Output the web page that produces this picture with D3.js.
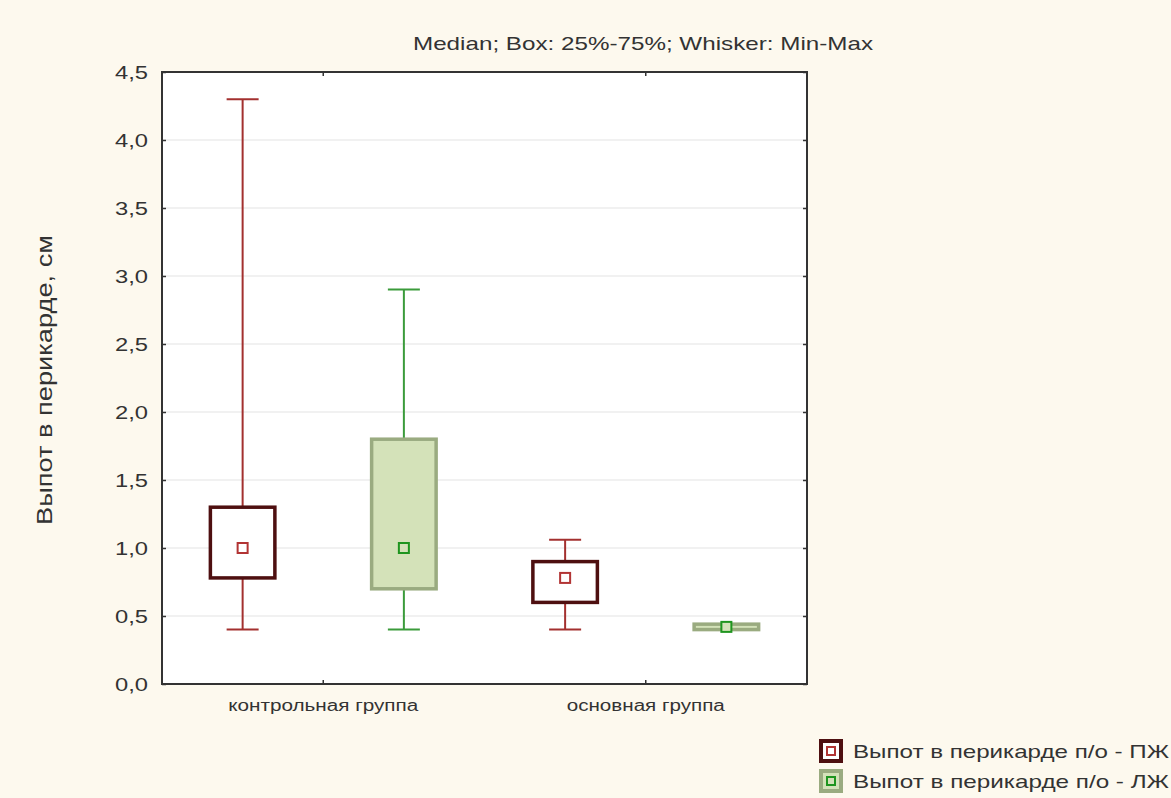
<!DOCTYPE html>
<html><head><meta charset="utf-8">
<script src="https://cdn.jsdelivr.net/npm/d3@7"></script>
<style>
html,body{margin:0;padding:0;background:#fdf9ee;}
svg{display:block;font-family:"Liberation Sans",Arial,sans-serif;}
</style></head>
<body><svg id="c" width="1171" height="798"></svg>
<script>
// ---- data ----
const categories = ["контрольная группа", "основная группа"];
const seriesNames = ["Выпот в перикарде п/о - ПЖ", "Выпот в перикарде п/о - ЛЖ"];
const pzhMin    = [0.40, 0.40];
const pzhQ1     = [0.78, 0.60];
const pzhMedian = [1.00, 0.78];
const pzhQ3     = [1.30, 0.90];
const pzhMax    = [4.30, 1.06];
const lzhMin    = [0.40, 0.40];
const lzhQ1     = [0.70, 0.40];
const lzhMedian = [1.00, 0.42];
const lzhQ3     = [1.80, 0.44];
const lzhMax    = [2.90, 0.44];
const yTicks = [0, 0.5, 1, 1.5, 2, 2.5, 3, 3.5, 4, 4.5];
const titleText = "Median; Box: 25%-75%; Whisker: Min-Max";
const yLabel = "Выпот в перикарде, см";

// ---- layout / styles ----
const L = 162, R = 807, T = 72, B = 684;
const styles = [
  {box:"#4e0f10", fill:"#ffffff", whisk:"#a3302f", med:"#b23434", medFill:"#ffffff"},
  {box:"#9aab80", fill:"#d4e2b9", whisk:"#3b9b3b", med:"#1f951f", medFill:"#d4e2b9"}
];
const svg = d3.select("#c");
svg.append("rect").attr("width",1171).attr("height",798).attr("fill","#fdf9ee");

const y = d3.scaleLinear().domain([0,4.5]).range([B,T]);
const x0 = d3.scaleBand().domain(categories).range([L,R]);
const x1 = d3.scaleBand().domain(seriesNames).range([0,x0.bandwidth()]);
const fmt = v => d3.format(".1f")(v).replace(".", ",");

// plot bg
svg.append("rect").attr("x",L).attr("y",T).attr("width",R-L).attr("height",B-T).attr("fill","#ffffff");
// gridlines
svg.append("g").selectAll("line").data(yTicks.filter(v=>v>0 && v<4.5)).join("line")
  .attr("x1",L).attr("x2",R).attr("y1",d=>y(d)).attr("y2",d=>y(d))
  .attr("stroke","#ececec").attr("stroke-width",1.5);

// axes
const yAxisL = d3.axisLeft(y).tickValues(yTicks).tickFormat(fmt).tickSizeInner(-4).tickSizeOuter(0).tickPadding(14);
const gy = svg.append("g").attr("transform",`translate(${L},0)`).call(yAxisL);
gy.select(".domain").remove();
gy.selectAll("line").attr("stroke","#333").attr("stroke-width",1.5);
gy.selectAll("text").attr("font-size",18).attr("fill","#333").attr("dy","0.35em")
  .attr("textLength",33).attr("lengthAdjust","spacingAndGlyphs");
const gyR = svg.append("g").attr("transform",`translate(${R},0)`)
  .call(d3.axisRight(y).tickValues(yTicks).tickFormat("").tickSizeInner(-4).tickSizeOuter(0));
gyR.select(".domain").remove();
gyR.selectAll("line").attr("stroke","#333").attr("stroke-width",1.5);

const gx = svg.append("g").attr("transform",`translate(0,${B})`)
  .call(d3.axisBottom(x0).tickSizeInner(-4).tickSizeOuter(0).tickPadding(16));
gx.select(".domain").remove();
gx.selectAll("line").attr("stroke","#333").attr("stroke-width",1.5);
const xLabLen = [190, 158];
gx.selectAll("text").attr("font-size",16).attr("fill","#333")
  .attr("textLength",(d,i)=>xLabLen[i]).attr("lengthAdjust","spacingAndGlyphs");
const gxT = svg.append("g").attr("transform",`translate(0,${T})`)
  .call(d3.axisTop(x0).tickFormat("").tickSizeInner(-4).tickSizeOuter(0));
gxT.select(".domain").remove();
gxT.selectAll("line").attr("stroke","#333").attr("stroke-width",1.5);

// frame
svg.append("rect").attr("x",L).attr("y",T).attr("width",R-L).attr("height",B-T)
  .attr("fill","none").attr("stroke","#333").attr("stroke-width",2);

// boxes
const series = [
  {name:seriesNames[0], min:pzhMin, q1:pzhQ1, med:pzhMedian, q3:pzhQ3, max:pzhMax},
  {name:seriesNames[1], min:lzhMin, q1:lzhQ1, med:lzhMedian, q3:lzhQ3, max:lzhMax}
];
const boxW = x1.bandwidth()*0.40, capW = 32, mS = 10;
series.forEach((s,si)=>{
  const st = styles[si];
  categories.forEach((c,ci)=>{
    const cx = x0(c) + x1(s.name) + x1.bandwidth()/2;
    const g = svg.append("g");
    // whiskers
    if (s.max[ci] > s.q3[ci]) {
      g.append("line").attr("x1",cx).attr("x2",cx).attr("y1",y(s.q3[ci])).attr("y2",y(s.max[ci])).attr("stroke",st.whisk).attr("stroke-width",2);
      g.append("line").attr("x1",cx-capW/2).attr("x2",cx+capW/2).attr("y1",y(s.max[ci])).attr("y2",y(s.max[ci])).attr("stroke",st.whisk).attr("stroke-width",2);
    }
    if (s.min[ci] < s.q1[ci]) {
      g.append("line").attr("x1",cx).attr("x2",cx).attr("y1",y(s.q1[ci])).attr("y2",y(s.min[ci])).attr("stroke",st.whisk).attr("stroke-width",2);
      g.append("line").attr("x1",cx-capW/2).attr("x2",cx+capW/2).attr("y1",y(s.min[ci])).attr("y2",y(s.min[ci])).attr("stroke",st.whisk).attr("stroke-width",2);
    }
    g.append("rect").attr("x",cx-boxW/2).attr("y",y(s.q3[ci])).attr("width",boxW)
      .attr("height",y(s.q1[ci])-y(s.q3[ci])).attr("fill",st.fill).attr("stroke",st.box).attr("stroke-width",3.5);
    g.append("rect").attr("x",cx-mS/2).attr("y",y(s.med[ci])-mS/2).attr("width",mS).attr("height",mS)
      .attr("fill",st.medFill).attr("stroke",st.med).attr("stroke-width",2);
  });
});

// title
svg.append("text").attr("x",643).attr("y",50).attr("text-anchor","middle").attr("font-size",19)
  .attr("fill","#333").attr("textLength",460).attr("lengthAdjust","spacingAndGlyphs").text(titleText);
// y label
svg.append("text").attr("transform","translate(52,380) rotate(-90)").attr("text-anchor","middle")
  .attr("font-size",22).attr("fill","#333").attr("textLength",290).attr("lengthAdjust","spacingAndGlyphs").text(yLabel);

// legend
const leg = svg.append("g");
seriesNames.forEach((n,i)=>{
  const st = styles[i];
  const cy = 751 + i*30;
  leg.append("rect").attr("x",821).attr("y",cy-10).attr("width",20).attr("height",20)
    .attr("fill",st.fill).attr("stroke",st.box).attr("stroke-width",4);
  leg.append("rect").attr("x",827).attr("y",cy-4).attr("width",8).attr("height",8)
    .attr("fill",st.medFill).attr("stroke",st.med).attr("stroke-width",2);
  leg.append("text").attr("x",853).attr("y",cy+7).attr("font-size",19).attr("fill","#333")
    .attr("textLength",316).attr("lengthAdjust","spacingAndGlyphs").text(n);
});
</script></body></html>
